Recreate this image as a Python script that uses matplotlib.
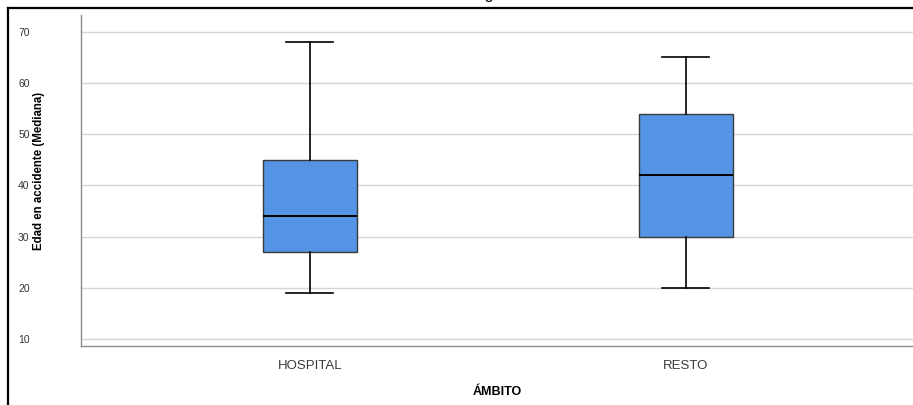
import matplotlib
matplotlib.use("Agg")
import matplotlib.pyplot as plt
from matplotlib.lines import Line2D

# Age at accident by setting (quartile summary)
categories = ["HOSPITAL", "RESTO"]
whisker_low = [19, 20]
q1 = [27, 30]
median = [34, 42]
q3 = [45, 54]
whisker_high = [68, 65]

yticks = [10, 20, 30, 40, 50, 60, 70]

W, H = 913, 405
fig = plt.figure(figsize=(W / 100, H / 100), dpi=100)
ax = fig.add_axes([81 / W, 59 / H, 832 / W, 331 / H])

stats = []
for i, name in enumerate(categories):
    stats.append(dict(label=name, whislo=whisker_low[i], q1=q1[i], med=median[i],
                      q3=q3[i], whishi=whisker_high[i], fliers=[]))

ax.bxp(stats, positions=[1, 2], widths=0.25, capwidths=0.125, patch_artist=True,
       showfliers=False,
       boxprops=dict(facecolor="#5594e4", edgecolor="#3a3a3a", linewidth=1.0),
       medianprops=dict(color="black", linewidth=1.4),
       whiskerprops=dict(color="black", linewidth=1.2),
       capprops=dict(color="black", linewidth=1.2),
       zorder=3)

ax.set_xlim(0.391, 2.604)
ax.set_ylim(8.63, 73.3)
ax.set_yticks(yticks)
ax.set_yticklabels([str(v) for v in yticks], fontsize=7.5, color="#333333",
                   family="Liberation Sans")
ax.set_xticks([1, 2])
ax.set_xticklabels(categories, fontsize=9.5, color="#3a3a3a", family="Liberation Sans")
ax.tick_params(axis="y", length=0, pad=37)
ax.tick_params(axis="x", length=0, pad=10)
ax.grid(axis="y", color="#d6d6d6", linewidth=1.0, zorder=0)
ax.set_axisbelow(True)
for side in ["top", "right"]:
    ax.spines[side].set_visible(False)
for side in ["left", "bottom"]:
    ax.spines[side].set_color("#8a8a8a")
    ax.spines[side].set_linewidth(1.0)

fig.text(39 / W, 1 - 171 / H, "Edad en accidente (Mediana)", rotation=90,
         ha="center", va="center", fontsize=8.3, color="black",
         family="Liberation Sans", fontweight="bold")
fig.text(497 / W, 1 - 392 / H, "ÁMBITO", ha="center", va="center",
         fontsize=9, fontweight="bold", family="Liberation Sans")

# heading sits mostly above the page edge
fig.text(75 / W, 1 + 0.8 / H,
         "Gráfico 5 - Distribución de edades de los accidentados según ámbito HCM 2018 - 2019",
         ha="left", va="baseline", fontsize=11.5, family="Liberation Sans", color="black")

# outer frame (left and top edges)
fig.add_artist(Line2D([8 / W, 8 / W], [0, 1 - 8 / H], color="black", linewidth=1.6,
                      transform=fig.transFigure))
fig.add_artist(Line2D([8 / W, 1], [1 - 8 / H, 1 - 8 / H], color="black", linewidth=1.6,
                      transform=fig.transFigure))

fig.savefig("out.png", dpi=100)
